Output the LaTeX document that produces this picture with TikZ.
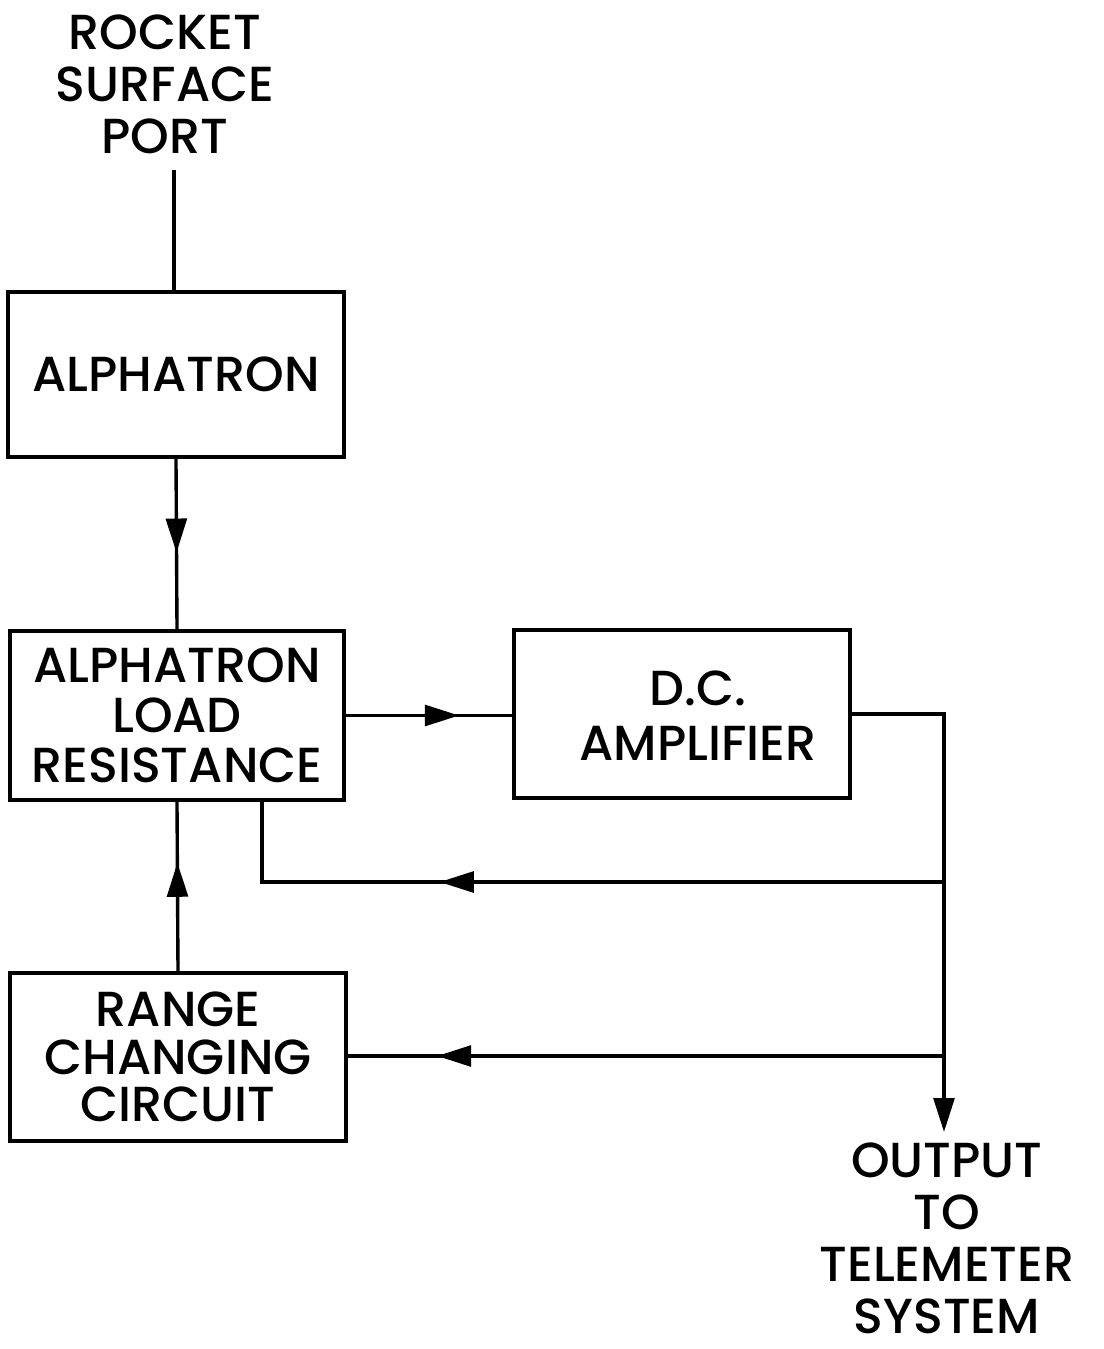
\documentclass[tikz,border=0pt]{standalone}
\usepackage{fontspec}
\setmainfont{Poppins}[UprightFont=* Medium]
\usetikzlibrary{arrows.meta,decorations.markings}

\tikzset{
  blk/.style={draw,line width=2.4pt,minimum width=336*0.025cm,minimum height=168*0.025cm,
              align=center,inner sep=0pt,font=\fontsize{35}{35.5}\selectfont},
  lettering/.style={align=center,inner sep=0pt,font=\fontsize{35}{35}\selectfont},
  wire/.style={line width=2.4pt},
  tipshape/.tip={Triangle[length=0.85cm,width=0.52cm]},
  arrowat/.style={postaction={decorate},decoration={markings,
                  mark=at position #1 with {\arrow{tipshape}}}}
}

\begin{document}
\begin{tikzpicture}[x=0.025cm,y=-0.025cm]
  \useasboundingbox (0,0) rectangle (1104,1349);

  % blocks
  \node[blk,minimum width=336*0.025cm,minimum height=165*0.025cm] (alph) at (176,374.5) {ALPHATRON};
  \node[blk,minimum width=334*0.025cm,minimum height=169*0.025cm] (load) at (177,715.5)
       {ALPHATRON\\LOAD\\RESISTANCE};
  \node[blk] (dc) at (682,714) {};
  \node[lettering,font=\fontsize{35}{39}\selectfont] (dctext) at (698,716) {D.C.\\AMPLIFIER};
  \node[blk,font=\fontsize{35}{33.8}\selectfont] (range) at (178,1057) {RANGE\\CHANGING\\CIRCUIT};

  % end labels
  \node[lettering,font=\fontsize{35}{37}\selectfont] (port) at (165,84) {ROCKET\\SURFACE\\PORT};
  \node[lettering,font=\fontsize{35}{37}\selectfont] (outtext) at (947,1238)
       {OUTPUT\\TO\\TELEMETER\\SYSTEM};

  \coordinate (portend) at (174,170);
  \coordinate (jtop) at (944,714);
  \coordinate (jfb) at (944,882);
  \coordinate (jrc) at (944,1056);
  \coordinate (out) at (944,1132);
  \coordinate (fbin) at (262,800);

  % connectors
  \draw[wire] (portend) -- (portend |- alph.north);
  \draw[wire,arrowat=0.55] (alph.south) -- (load.north);
  \draw[wire,arrowat=0.68] (load.east) -- (dc.west |- load.east);
  \draw[wire,-{tipshape}] (dc.east) -- (jtop) -- (out);
  \draw[wire,arrowat=0.66] (jfb) -| (fbin);
  \draw[wire,arrowat=0.64] (range.north) -- (load.south);
  \draw[wire,arrowat=0.85] (jrc) -- (range.east |- jrc);
\end{tikzpicture}
\end{document}
